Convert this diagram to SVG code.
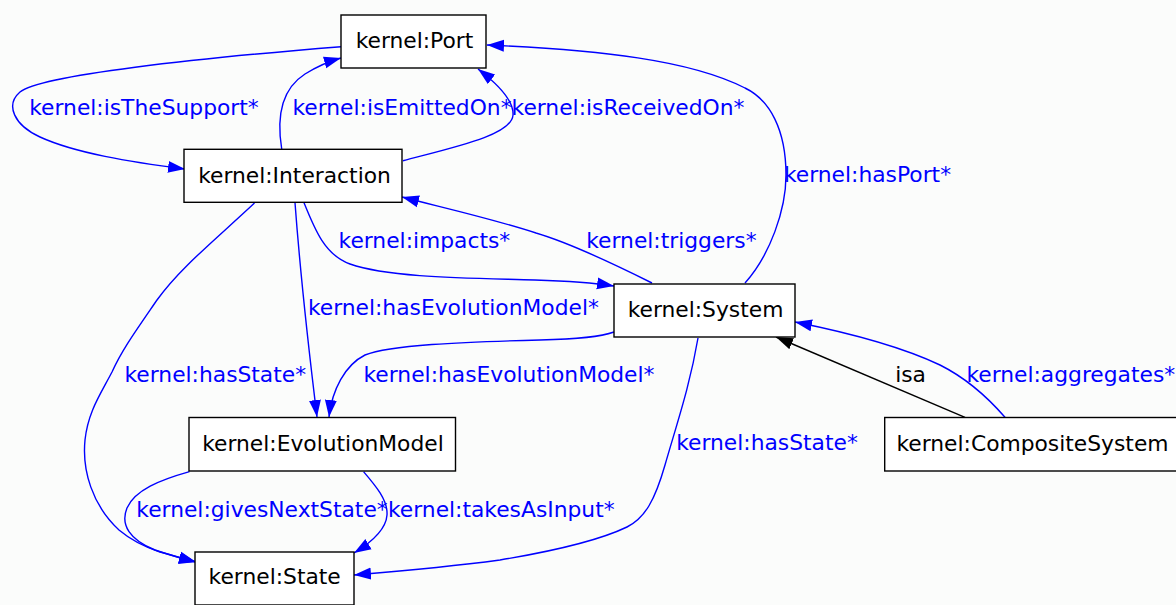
<svg xmlns="http://www.w3.org/2000/svg" width="1176" height="605" viewBox="0 0 1176 605">
  <style>
    .node rect { fill: #ffffff; stroke: #000000; stroke-width: 1.4; }
    .node text { font-family: "DejaVu Sans", Verdana, sans-serif; font-size: 21.8px; fill: #000000; text-anchor: middle; }
    .edge { fill: none; stroke: #0000ff; stroke-width: 1.4; }
    .edge.isa { stroke: #000000; }
    .lbl { font-family: "DejaVu Sans", Verdana, sans-serif; font-size: 21.8px; fill: #0000ff; text-anchor: middle; }
    .lbl.black { fill: #000000; }
  </style>
  <defs>
    <marker id="ab" markerUnits="userSpaceOnUse" markerWidth="18" markerHeight="14" refX="17" refY="6.5" orient="auto">
      <path d="M0,0.5 L17,6.5 L0,12.5 z" fill="#0000ff"/>
    </marker>
    <marker id="ak" markerUnits="userSpaceOnUse" markerWidth="18" markerHeight="14" refX="17" refY="6.5" orient="auto">
      <path d="M0,0.5 L17,6.5 L0,12.5 z" fill="#000000"/>
    </marker>
  </defs>
  <rect x="0" y="0" width="1176" height="605" fill="#fbfcfb"/>

  <g id="connectors">
    <path class="edge" marker-end="url(#ab)" d="M341,46.7 C200,58 40,75 20,92 C5,105 14,125 40,137 C75,153 130,162 185,169"/>
    <path class="edge" marker-end="url(#ab)" d="M281.7,149 C277,120 280,90 305,74 C318,66 330,61 341,58"/>
    <path class="edge" marker-end="url(#ab)" d="M403,160.7 C455,147 512,135 513,115 C514,100 495,82 478,69"/>
    <path class="edge" marker-end="url(#ab)" d="M745,283 C770,255 786,210 786,175 C786,130 770,100 745,88 C690,60 600,50 487,45"/>
    <path class="edge" marker-end="url(#ab)" d="M304,202.7 C315,230 325,255 350,264 C390,278 470,278 535,280 C570,281 595,283 614,286"/>
    <path class="edge" marker-end="url(#ab)" d="M652,283 C610,262 570,243 536,233 C490,218 440,207 402,197"/>
    <path class="edge" marker-end="url(#ab)" d="M295,202.7 C300,270 310,360 317,417"/>
    <path class="edge" marker-end="url(#ab)" d="M614,332 C600,337 580,339 540,340 C460,342 390,345 365,355 C345,365 332,390 329,417"/>
    <path class="edge" marker-end="url(#ab)" d="M254.5,203 C215,240 180,268 157,300 C135,332 122,350 112,372 C100,395 88,412 85,440 C82,470 92,505 119,530 C132,541 145,547 160,552 C175,556 185,559 196,562"/>
    <path class="edge" marker-end="url(#ab)" d="M189.5,471.7 C160,480 135,490 127,508 C120,525 130,540 155,550 C170,555 183,559 196,562"/>
    <path class="edge" marker-end="url(#ab)" d="M363.6,471.7 C375,485 388,500 387,515 C386,530 372,542 354,553"/>
    <path class="edge" marker-end="url(#ab)" d="M698,338 C690,385 678,420 665,465 C655,500 645,518 627,527 C600,540 560,550 500,560 C440,568 390,572 354,575"/>
    <path class="edge isa" marker-end="url(#ak)" d="M965,417.3 L776,337"/>
    <path class="edge" marker-end="url(#ab)" d="M1005,417.3 C990,400 970,380 940,365 C900,346 850,333 795,322"/>

    <text class="lbl" x="144" y="115">kernel:isTheSupport*</text>
    <text class="lbl" x="402" y="115">kernel:isEmittedOn*</text>
    <text class="lbl" x="628" y="115">kernel:isReceivedOn*</text>
    <text class="lbl" x="867.5" y="181.7">kernel:hasPort*</text>
    <text class="lbl" x="424.4" y="248.3">kernel:impacts*</text>
    <text class="lbl" x="671.4" y="248.3">kernel:triggers*</text>
    <text class="lbl" x="453.4" y="315">kernel:hasEvolutionModel*</text>
    <text class="lbl" x="509" y="382.3">kernel:hasEvolutionModel*</text>
    <text class="lbl" x="215.3" y="382.3">kernel:hasState*</text>
    <text class="lbl" x="767" y="450">kernel:hasState*</text>
    <text class="lbl black" x="910.6" y="382.3">isa</text>
    <text class="lbl" x="1070.8" y="382.3">kernel:aggregates*</text>
    <text class="lbl" x="262" y="516.7">kernel:givesNextState*</text>
    <text class="lbl" x="501.3" y="516.7">kernel:takesAsInput*</text>
  </g>

  <g id="node-port" class="node">
    <rect x="341" y="15" width="145" height="53"/>
    <text x="414.5" y="48.3">kernel:Port</text>
  </g>
  <g id="node-interaction" class="node">
    <rect x="184" y="149.3" width="218" height="53"/>
    <text x="294.5" y="182.7">kernel:Interaction</text>
  </g>
  <g id="node-system" class="node">
    <rect x="614" y="284" width="181" height="53"/>
    <text x="705.5" y="316.7">kernel:System</text>
  </g>
  <g id="node-evolutionmodel" class="node">
    <rect x="189" y="417.5" width="266.5" height="53.5"/>
    <text x="323" y="450.7">kernel:EvolutionModel</text>
  </g>
  <g id="node-state" class="node">
    <rect x="195" y="552" width="159" height="53"/>
    <text x="274.7" y="584.3">kernel:State</text>
  </g>
  <g id="node-compositesystem" class="node">
    <rect x="884.7" y="417.5" width="296" height="53.5"/>
    <text x="1032.5" y="450.7">kernel:CompositeSystem</text>
  </g>
</svg>
